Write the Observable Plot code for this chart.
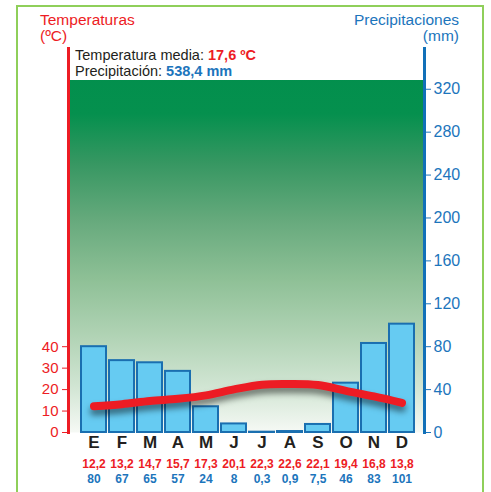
<!DOCTYPE html>
<html>
<head>
<meta charset="utf-8">
<script src="https://cdn.jsdelivr.net/npm/d3@7"></script>
<script src="https://cdn.jsdelivr.net/npm/@observablehq/plot@0.6"></script>
<style>
  body { margin: 0; background: white; font-family: Arial, "Liberation Sans", Helvetica, sans-serif; }
  #wrap { position: relative; width: 491px; height: 492px; overflow: hidden; background: white; }
  #chart { position: absolute; left: 0; top: 0; }
  .border { position: absolute; left: 16px; top: 5px; width: 468px; height: 520px; box-sizing: border-box; border: 2px solid #8fcf5a; pointer-events: none; }
  .tl { position: absolute; left: 40px; top: 12px; font-size: 15.5px; line-height: 16px; color: #ed1c24; }
  .tr { position: absolute; right: 32px; top: 12px; font-size: 15.5px; line-height: 16px; color: #1c75bc; text-align: right; }
  .tl div, .tr div, .info div { height: 16px; }
  .info { position: absolute; left: 70px; top: 47px; width: 353px; height: 33px; background: white; padding-left: 5px; box-sizing: border-box; font-size: 14.5px; line-height: 16px; color: #231f20; }
  .info .r { color: #ed1c24; font-weight: bold; }
  .info .b { color: #1c75bc; font-weight: bold; }
</style>
</head>
<body>
<svg width="0" height="0" style="position:absolute">
  <defs>
    <linearGradient id="bg" x1="0" y1="0" x2="0" y2="1">
      <stop offset="0" stop-color="#008f4c"/>
      <stop offset="0.17" stop-color="#05904e"/>
      <stop offset="0.30" stop-color="#379762"/>
      <stop offset="0.45" stop-color="#67aa7d"/>
      <stop offset="0.60" stop-color="#8ec096"/>
      <stop offset="0.75" stop-color="#b1d3b5"/>
      <stop offset="0.88" stop-color="#d1e5d3"/>
      <stop offset="1" stop-color="#f6f9f5"/>
    </linearGradient>
  </defs>
</svg>
<div id="wrap">
  <div id="chart"></div>
  <div class="tl"><div>Temperaturas</div><div>(ºC)</div></div>
  <div class="tr"><div>Precipitaciones</div><div>(mm)</div></div>
  <div class="info"><div>Temperatura media: <span class="r">17,6 ºC</span></div><div>Precipitación: <span class="b">538,4 mm</span></div></div>
  <div class="border"></div>
</div>
<script>
const months = ["E","F","M","A","M","J","J","A","S","O","N","D"];
const temps = [12.2,13.2,14.7,15.7,17.3,20.1,22.3,22.6,22.1,19.4,16.8,13.8];
const precip = [80,67,65,57,24,8,0.3,0.9,7.5,46,83,101];
const leftTicks = [0,10,20,30,40];
const rightTicks = [0,40,80,120,160,200,240,280,320];

const RED = "#ed1c24", BLUE = "#1c75bc";
const data = months.map((m, i) => ({i, m, t: temps[i], p: precip[i]}));
const fmt = v => String(v).replace(".", ",");
const narrow = "'Liberation Sans Narrow', 'Arial Narrow', Arial, sans-serif";

const chart = Plot.plot({
  width: 491, height: 492,
  marginTop: 48, marginBottom: 60, marginLeft: 68, marginRight: 67,
  style: {background: "transparent", fontFamily: "Arial, 'Liberation Sans', sans-serif"},
  x: {type: "band", domain: d3.range(12), paddingInner: 0.12, paddingOuter: 0.32, align: 0.55, axis: null},
  y: {domain: [0, 358]},
  marks: [
    Plot.frame({fill: "url(#bg)", stroke: "none"}),
    Plot.barY(data, {x: "i", y: "p", fill: "#66cbf2", stroke: "#1a6fb0", strokeWidth: 2}),
    Plot.line(data, {x: "i", y: d => d.t * 2, stroke: RED, strokeWidth: 8, strokeLinecap: "round", curve: "catmull-rom"}),
    Plot.axisY(rightTicks, {anchor: "right", color: BLUE, fontSize: 16, tickSize: 6, tickPadding: 3, label: null}),
    Plot.axisY(leftTicks.map(v => v * 2), {anchor: "left", tickFormat: v => v / 2, color: RED, fontSize: 15, tickSize: 6, tickPadding: 4, label: null}),
    Plot.frame({anchor: "left", stroke: RED, strokeWidth: 3}),
    Plot.frame({anchor: "right", stroke: "#1170b8", strokeWidth: 3}),
    Plot.text(data, {x: "i", text: "m", frameAnchor: "bottom", dy: 15, fontSize: 17, fontWeight: "bold", fill: "#231f20"}),
    Plot.text(data, {x: "i", text: d => fmt(d.t), frameAnchor: "bottom", dy: 35, fontSize: 12, fontWeight: "bold", fill: RED, fontFamily: narrow}),
    Plot.text(data, {x: "i", text: d => fmt(d.p), frameAnchor: "bottom", dy: 50, fontSize: 12, fontWeight: "bold", fill: BLUE, fontFamily: narrow})
  ]
});
document.getElementById("chart").appendChild(chart);
d3.select(chart).selectAll('g[aria-label="line"] path').style("filter", "drop-shadow(0px 5px 3px rgba(0,0,0,0.5))");
</script>
</body>
</html>
